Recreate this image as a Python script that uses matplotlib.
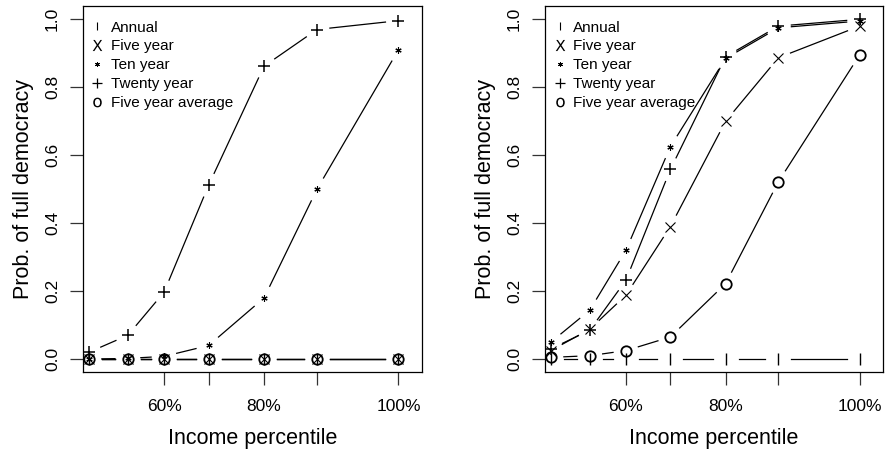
import numpy as np
import matplotlib.pyplot as plt
from matplotlib.lines import Line2D

plt.rcParams['font.family'] = ['Liberation Sans', 'DejaVu Sans']

# income position of each point (percentile scale is not linear)
income_x = [0.0, 0.126, 0.243, 0.387, 0.566, 0.737, 1.0]
tick_pos = [0.243, 0.387, 0.566, 0.737, 1.0]
tick_labels = ["60%", "", "80%", "", "100%"]

series_names = ["Annual", "Five year", "Ten year", "Twenty year", "Five year average"]

# left panel
left_annual = [0, 0, 0, 0, 0, 0, 0]
left_five = [0, 0, 0, 0, 0, 0, 0]
left_ten = [0, 0.002, 0.008, 0.04, 0.18, 0.50, 0.91]
left_twenty = [0.02, 0.07, 0.197, 0.512, 0.862, 0.97, 0.996]
left_avg = [0, 0, 0, 0, 0, 0, 0]

# right panel
right_annual = [0, 0, 0, 0, 0, 0, 0]
right_five = [0.025, 0.088, 0.188, 0.39, 0.70, 0.887, 0.98]
right_ten = [0.05, 0.144, 0.32, 0.625, 0.885, 0.975, 0.995]
right_twenty = [0.03, 0.085, 0.232, 0.558, 0.89, 0.98, 1.0]
right_avg = [0.005, 0.01, 0.025, 0.065, 0.222, 0.522, 0.895]

markers = [
    dict(marker='|', markersize=8, markeredgewidth=1.0),
    dict(marker='x', markersize=7, markeredgewidth=0.8),
    dict(marker=(6, 2, 0), markersize=4.5, markeredgewidth=0.8),
    dict(marker='+', markersize=9, markeredgewidth=1.1),
    dict(marker='o', markersize=7.5, markeredgewidth=1.3, markerfacecolor='none'),
]

legend_markers = [
    dict(marker='|', markersize=6, markeredgewidth=0.8),
    dict(marker='$\\mathsf{X}$', markersize=8, markeredgewidth=0),
    dict(marker=(6, 2, 0), markersize=3.5, markeredgewidth=0.7),
    dict(marker='+', markersize=7, markeredgewidth=0.9),
    dict(marker='$\\mathsf{o}$', markersize=7, markeredgewidth=0),
]


def gap_lines(ax, x, y, gap=13):
    # like R type="b": segments stop short of each point
    pts = ax.transData.transform(np.column_stack([x, y]))
    inv = ax.transData.inverted()
    for p0, p1 in zip(pts[:-1], pts[1:]):
        d = p1 - p0
        L = np.hypot(d[0], d[1])
        if L <= 2 * gap:
            continue
        u = d / L
        a = inv.transform(p0 + u * gap)
        b = inv.transform(p1 - u * gap)
        ax.plot([a[0], b[0]], [a[1], b[1]], color='k', lw=0.9)


def panel(ax, data):
    ax.set_xlim(-0.019, 1.076)
    ax.set_ylim(-0.038, 1.039)
    for ys, mk in zip(data, markers):
        gap_lines(ax, income_x, ys)
        ax.plot(income_x, ys, linestyle='none', color='k', **mk)

    ax.set_xticks(tick_pos)
    ax.set_xticklabels(tick_labels)
    ax.set_yticks([0, 0.2, 0.4, 0.6, 0.8, 1.0])
    ax.set_yticklabels(["0.0", "0.2", "0.4", "0.6", "0.8", "1.0"])
    ax.tick_params(axis='both', direction='out', length=9.5, width=0.9,
                   labelsize=12.5, color='#333333')
    ax.tick_params(axis='x', pad=10)
    ax.tick_params(axis='y', labelrotation=90, pad=7)
    for lab in ax.get_yticklabels():
        lab.set_va('center')
    ax.set_xlabel("Income percentile", fontsize=15.5, labelpad=10)
    ax.set_ylabel("Prob. of full democracy", fontsize=15.5, labelpad=8)
    for sp in ax.spines.values():
        sp.set_linewidth(0.9)

    handles = [Line2D([], [], linestyle='none', color='k', **mk) for mk in legend_markers]
    ax.legend(handles, series_names, loc='upper left', frameon=False,
              fontsize=11, handlelength=0.8, handletextpad=0.5,
              labelspacing=0.32, borderaxespad=0.5, borderpad=0.45,
              bbox_to_anchor=(-0.018, 1.0))


fig = plt.figure(figsize=(8.92, 4.49), dpi=100)
ax1 = fig.add_axes([0.0930, 0.1715, 0.380, 0.815])
ax2 = fig.add_axes([0.611, 0.1715, 0.379, 0.815])

panel(ax1, [left_annual, left_five, left_ten, left_twenty, left_avg])
panel(ax2, [right_annual, right_five, right_ten, right_twenty, right_avg])

fig.savefig("out.png", dpi=100)
